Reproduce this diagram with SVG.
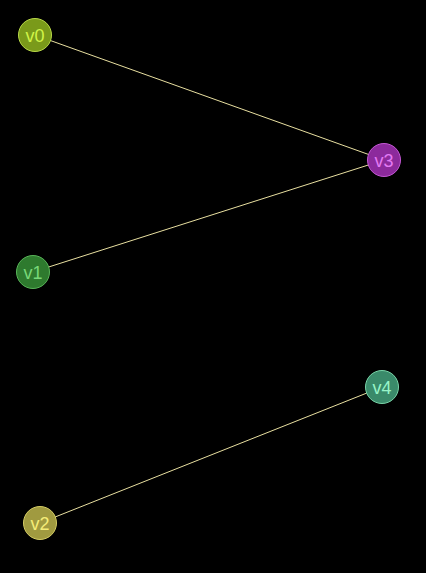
<svg xmlns="http://www.w3.org/2000/svg" width="426" height="573" viewBox="0 0 426 573">
<style>
.e{stroke:#e8dfa0;stroke-width:1;fill:none}
circle{stroke-width:1}
text{font-family:"Liberation Sans",Arial,sans-serif;font-size:18px;text-anchor:middle;dominant-baseline:central}
</style>
<rect width="426" height="573" fill="#000"/>
<g id="edges">
<line class="e" x1="35" y1="35" x2="384" y2="160"/>
<line class="e" x1="33" y1="272" x2="384" y2="160"/>
<line class="e" x1="40" y1="523" x2="382" y2="387"/>
</g>
<g id="v0"><circle cx="35" cy="35" r="16.5" fill="#7a9a1a" stroke="#b8d848"/><text x="35" y="36" fill="#d0f448">v0</text></g>
<g id="v3"><circle cx="384" cy="160" r="16.5" fill="#8c2a9c" stroke="#c458d4"/><text x="384" y="161" fill="#e47af4">v3</text></g>
<g id="v1"><circle cx="33" cy="272" r="16.5" fill="#2e7a2e" stroke="#58b458"/><text x="33" y="273" fill="#78d878">v1</text></g>
<g id="v4"><circle cx="382" cy="387" r="16.5" fill="#3a8a6a" stroke="#78d4a8"/><text x="382" y="388" fill="#98f4c8">v4</text></g>
<g id="v2"><circle cx="40" cy="523" r="16.5" fill="#a09a40" stroke="#d4cc64"/><text x="40" y="524" fill="#f4ec78">v2</text></g>
</svg>
